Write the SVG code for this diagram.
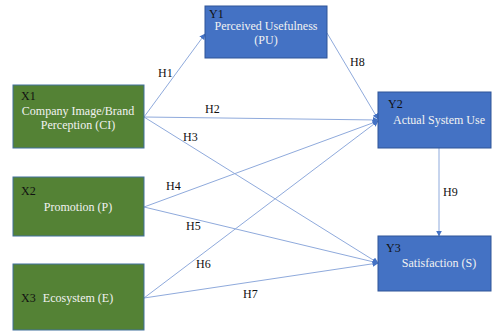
<svg xmlns="http://www.w3.org/2000/svg" width="492" height="331" viewBox="0 0 492 331">
<style>
.g{fill:#548235;stroke:#41719C;stroke-width:1}
.b{fill:#4472C4;stroke:#2F5597;stroke-width:1}
text{font-family:"Liberation Serif","Times New Roman",serif;font-size:12px}
.t{fill:#F2F2F2;text-anchor:middle}
.k{fill:#111}
.h{fill:#111}
.ln{stroke:#8FAADC;stroke-width:1;fill:none;marker-end:url(#a)}
</style>
<defs>
<marker id="a" viewBox="0 0 10 10" refX="9" refY="5" markerWidth="6" markerHeight="6" orient="auto" markerUnits="userSpaceOnUse">
<path d="M0,0 L10,5 L0,10 z" fill="#4472C4"/>
</marker>
</defs>
<rect width="492" height="331" fill="#fff"/>
<g id="connectors">
<line class="ln" x1="144" y1="117" x2="205" y2="34"/>
<line class="ln" x1="144" y1="117" x2="378" y2="120"/>
<line class="ln" x1="144" y1="117" x2="378" y2="263"/>
<line class="ln" x1="327" y1="33" x2="378" y2="119"/>
<line class="ln" x1="144" y1="207" x2="378" y2="121"/>
<line class="ln" x1="144" y1="207" x2="378" y2="263"/>
<line class="ln" x1="144" y1="298" x2="378" y2="121"/>
<line class="ln" x1="144" y1="298" x2="378" y2="263"/>
<line class="ln" x1="439" y1="148" x2="439" y2="236"/>
<text class="h" x="158" y="77">H1</text>
<text class="h" x="205" y="113">H2</text>
<text class="h" x="183" y="141">H3</text>
<text class="h" x="350" y="66">H8</text>
<text class="h" x="166" y="190">H4</text>
<text class="h" x="186" y="230">H5</text>
<text class="h" x="196" y="268">H6</text>
<text class="h" x="243" y="298">H7</text>
<text class="h" x="443" y="196">H9</text>
</g>
<g id="X1">
<rect class="g" x="13" y="85" width="131" height="63"/>
<text class="k" x="21" y="100">X1</text>
<text class="t" x="78" y="115">Company Image/Brand</text>
<text class="t" x="78" y="129">Perception (CI)</text>
</g>
<g id="X2">
<rect class="g" x="13" y="177" width="131" height="59"/>
<text class="k" x="21" y="195">X2</text>
<text class="t" x="78" y="211">Promotion (P)</text>
</g>
<g id="X3">
<rect class="g" x="13" y="264" width="131" height="66"/>
<text class="k" x="21" y="302">X3</text>
<text class="t" x="78" y="302">Ecosystem (E)</text>
</g>
<g id="Y1">
<rect class="b" x="205" y="6" width="122" height="52"/>
<text class="k" x="209" y="18">Y1</text>
<text class="t" x="266" y="30">Perceived Usefulness</text>
<text class="t" x="266" y="44">(PU)</text>
</g>
<g id="Y2">
<rect class="b" x="378" y="92" width="113" height="56"/>
<text class="k" x="388" y="108">Y2</text>
<text class="t" x="439" y="124">Actual System Use</text>
</g>
<g id="Y3">
<rect class="b" x="378" y="236" width="113" height="55"/>
<text class="k" x="386" y="252">Y3</text>
<text class="t" x="439" y="267">Satisfaction (S)</text>
</g>
</svg>
